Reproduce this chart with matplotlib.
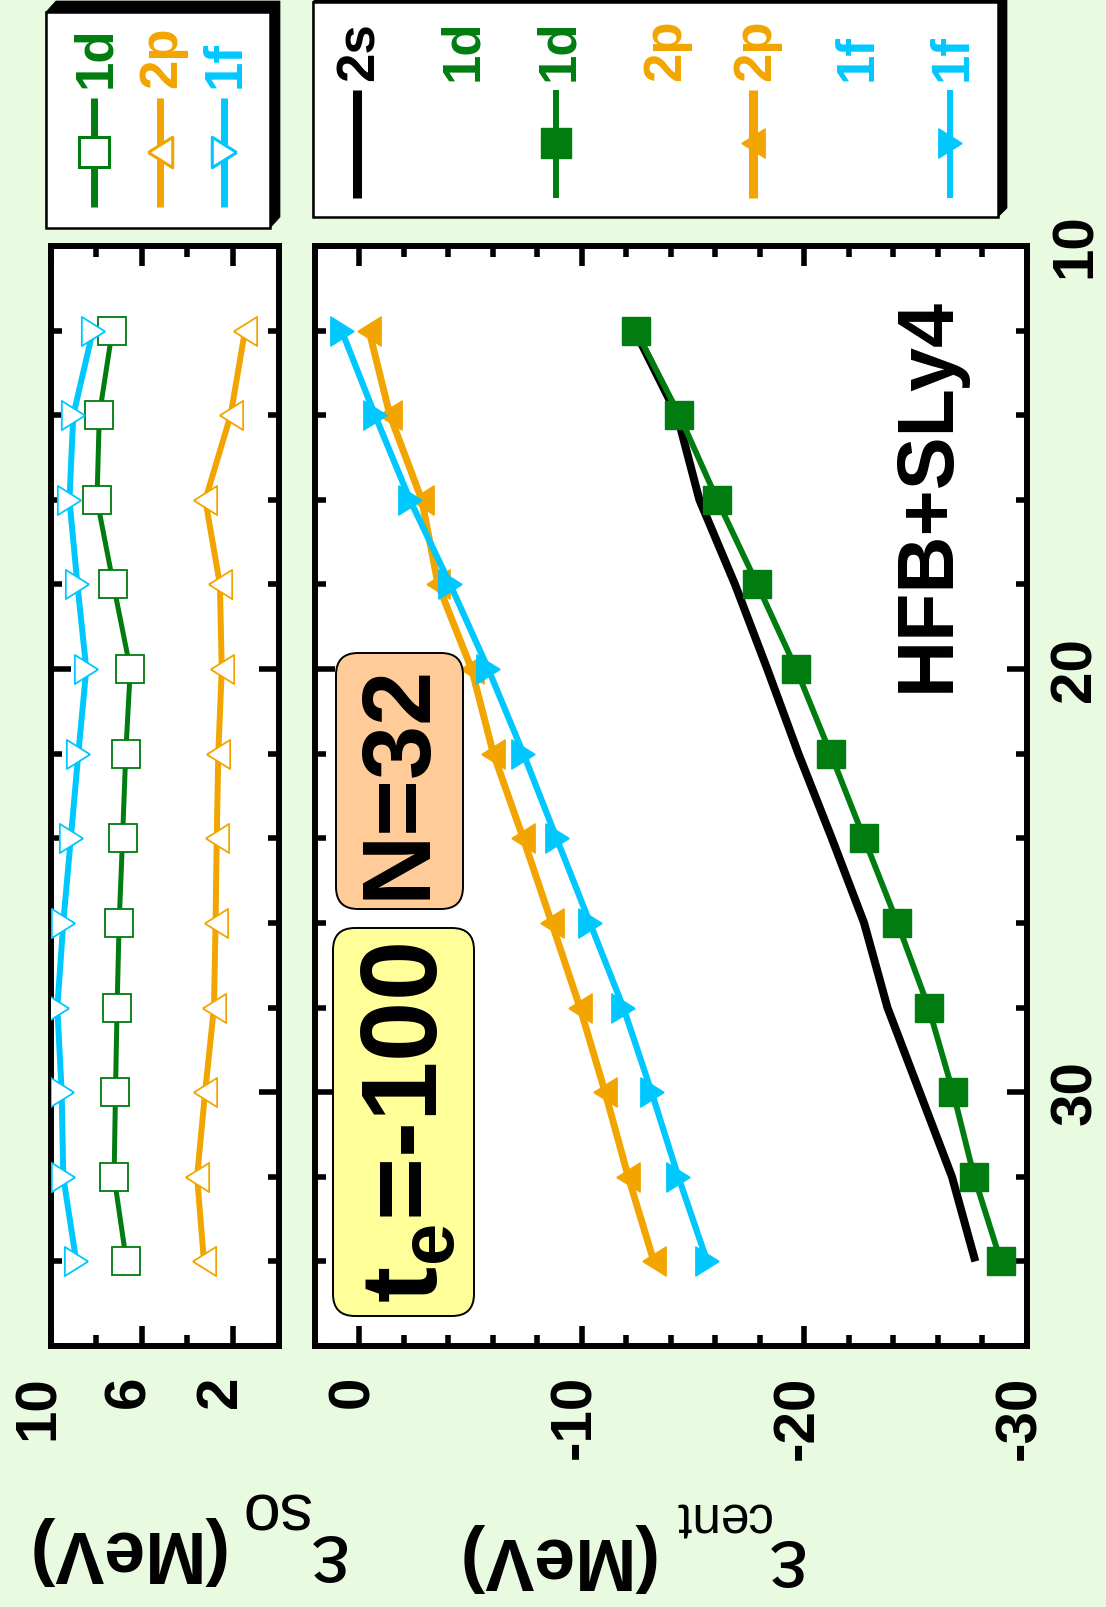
import numpy as np
import matplotlib
matplotlib.use('Agg')
import matplotlib.pyplot as plt
from matplotlib.patches import FancyBboxPatch, Polygon, Rectangle
import matplotlib.transforms as mtransforms

plt.rcParams['font.family'] = ['Liberation Sans', 'DejaVu Sans']
plt.rcParams['font.weight'] = 'bold'
plt.rcParams['axes.unicode_minus'] = False
plt.rcParams['mathtext.fontset'] = 'custom'
plt.rcParams['mathtext.rm'] = 'Liberation Sans'
plt.rcParams['mathtext.it'] = 'Liberation Sans'
plt.rcParams['mathtext.bf'] = 'Liberation Sans:bold'

# ---------------- data ----------------
Z = [12, 14, 16, 18, 20, 22, 24, 26, 28, 30, 32, 34]
e_cent_2s = [-12.4, -14.3, -15.3, -16.9, -18.35, -19.75, -21.25, -22.7, -23.75, -25.2, -26.65, -27.7]
e_cent_1d = [-12.45, -14.4, -16.1, -17.9, -19.65, -21.2, -22.7, -24.2, -25.6, -26.7, -27.65, -28.85]
e_cent_2p = [-0.45, -1.39, -2.82, -3.55, -5.06, -6.04, -7.38, -8.66, -9.93, -11.06, -12.1, -13.25]
e_cent_1f = [0.78, -0.72, -2.29, -4.1, -5.81, -7.39, -8.88, -10.38, -11.88, -13.15, -14.35, -15.65]

e_so_1d = [7.29, 7.86, 7.96, 7.24, 6.5, 6.7, 6.84, 6.99, 7.08, 7.15, 7.21, 6.67]
e_so_2p = [1.47, 2.10, 3.21, 2.57, 2.49, 2.64, 2.71, 2.76, 2.83, 3.22, 3.57, 3.27]
e_so_1f = [8.14, 9.0, 9.17, 8.82, 8.43, 8.78, 9.11, 9.44, 9.70, 9.51, 9.44, 8.87]

z_ticks = [10, 20, 30]
cent_ticks = [0, -10, -20, -30]
so_ticks = [10, 6, 2]

legend_left = ['1d', '2p', '1f']
legend_right = ['2s', '1d', '1d', '2p', '2p', '1f', '1f']

# ---------------- style ----------------
BG = '#E8FBE0'
GREEN = '#007C10'
ORANGE = '#F2A500'
CYAN = '#00C8FF'
W, H = 1106, 1607

tri_left = [(-0.4, 0), (0.4, -0.5), (0.4, 0.5), (-0.4, 0)]
tri_right = [(0.4, 0), (-0.4, -0.5), (-0.4, 0.5), (0.4, 0)]

fig = plt.figure(figsize=(W / 100, H / 100), dpi=100, facecolor=BG)


def px_axes(x0, x1, y0, y1):
    return fig.add_axes([x0 / W, 1 - y1 / H, (x1 - x0) / W, (y1 - y0) / H])


ax = px_axes(314.5, 1026.5, 246, 1346)
ax2 = px_axes(50.5, 278.5, 246, 1346)

for a in (ax, ax2):
    a.set_facecolor('white')
    for s in a.spines.values():
        s.set_linewidth(4.3)
    a.set_ylim(36, 10)
    a.set_yticks(z_ticks)
    a.set_yticks(np.arange(10, 37, 2), minor=True)
    a.tick_params(which='both', direction='in', top=True, bottom=True,
                  left=True, right=True, width=4, color='black')
    a.tick_params(which='major', length=14.5)
    a.tick_params(which='minor', length=8)

# main panel
ax.plot(e_cent_2s, Z, color='black', lw=5.8, solid_capstyle='butt', zorder=3)
ax.plot(e_cent_1d, Z, color=GREEN, lw=4.2, marker='s', ms=20, mfc=GREEN, mec=GREEN, mew=1, zorder=4)
ax.plot(e_cent_2p, Z, color=ORANGE, lw=5.0, marker=tri_left, ms=21, mfc=ORANGE, mec=ORANGE, mew=1, zorder=4)
ax.plot(e_cent_1f, Z, color=CYAN, lw=4.5, marker=tri_right, ms=21, mfc=CYAN, mec=CYAN, mew=1, zorder=5)
ax.set_xlim(2, -30)
ax.set_xticks(cent_ticks)
ax.set_xticks(np.arange(0, -29, -2), minor=True)
ax.tick_params(axis='x', labelbottom=True, labeltop=False, labelrotation=90, labelsize=42, pad=21)
ax.tick_params(axis='y', labelleft=False, labelright=True, labelrotation=90, labelsize=42, pad=16)
for lab in ax.get_yticklabels():
    lab.set_va('center')

# spin-orbit panel
ax2.plot(e_so_1d, Z, color=GREEN, lw=3.6, marker='s', ms=20, mfc='white', mec=GREEN, mew=1.3, zorder=4)
ax2.plot(e_so_2p, Z, color=ORANGE, lw=4.3, marker=tri_left, ms=21, mfc='white', mec=ORANGE, mew=1.3, zorder=4)
ax2.plot(e_so_1f, Z, color=CYAN, lw=4.3, marker=tri_right, ms=21, mfc='white', mec=CYAN, mew=1.3, zorder=5)
ax2.set_xlim(10, 0)
ax2.set_xticks(so_ticks)
ax2.set_xticks([8, 4], minor=True)
ax2.tick_params(axis='x', labelbottom=True, labeltop=False, labelrotation=90, labelsize=42, pad=21)
ax2.tick_params(axis='y', labelleft=False, labelright=False)

off_main = mtransforms.ScaledTranslation(-6 / 100, 0, fig.dpi_scale_trans)
off_so = mtransforms.ScaledTranslation(-12 / 100, 0, fig.dpi_scale_trans)
for lab in ax.get_xticklabels():
    lab.set_transform(lab.get_transform() + off_main)
for lab in ax2.get_xticklabels():
    lab.set_transform(lab.get_transform() + off_so)

# ---------------- overlay (pixel coords) ----------------
ov = fig.add_axes([0, 0, 1, 1], zorder=10)
ov.set_xlim(0, W)
ov.set_ylim(H, 0)
ov.axis('off')


def shadow_box(x0, y0, x1, y1, dx, dy):
    ov.add_patch(Polygon([(x0, y0), (x0 + dx, y0 + dy), (x1 + dx, y0 + dy),
                          (x1 + dx, y1 + dy), (x1, y1), (x0, y1)], closed=True,
                         facecolor='black', edgecolor='black', lw=0.5, zorder=1))
    ov.add_patch(Rectangle((x0, y0), x1 - x0, y1 - y0, facecolor='white',
                           edgecolor='black', lw=1.8, zorder=2))


# left legend
shadow_box(46, 12, 270, 228, 10, -11)
left_x = [94, 160, 224]
left_cols = [GREEN, ORANGE, CYAN]
left_mk = ['s', tri_left, tri_right]
for x, lab, c, m in zip(left_x, legend_left, left_cols, left_mk):
    ov.plot([x, x], [98, 207], color=c, lw=5, solid_capstyle='butt', zorder=3)
    ov.plot([x], [152], marker=m, ms=22, mfc='white', mec=c, mew=2.2, zorder=4)
    ov.text(x + 2, 88, lab, rotation=90, ha='center', va='bottom', color=c,
            fontsize=38, fontweight='bold', zorder=5)

# right legend
shadow_box(313, 1.5, 998, 217, 9, -9)
right_x = [357, 460, 556, 663, 753, 855, 950]
right_cols = ['black', GREEN, GREEN, ORANGE, ORANGE, CYAN, CYAN]
right_line = [True, False, True, False, True, False, True]
right_mk = [None, None, 's', None, tri_left, None, tri_right]
right_lw = [6.5, 0, 4.3, 0, 6.5, 0, 4.3]
for x, lab, c, ln, m, lw in zip(right_x, legend_right, right_cols, right_line, right_mk, right_lw):
    if ln:
        ov.plot([x, x], [90, 198], color=c, lw=lw, solid_capstyle='butt', zorder=3)
        if m is not None:
            ov.plot([x], [143], marker=m, ms=21, mfc=c, mec=c, mew=1, zorder=4)
    ov.text(x + 3, 81, lab, rotation=90, ha='center', va='bottom', color=c,
            fontsize=38, fontweight='bold', zorder=5)

# annotation boxes
ov.add_patch(FancyBboxPatch((336, 653), 127, 256, boxstyle='round,pad=0,rounding_size=22',
                            facecolor='#FFCC99', edgecolor='black', lw=1.4, zorder=3))
ov.text(400, 781, 'N=32', rotation=90, ha='center', va='center', fontsize=70,
        fontweight='bold', zorder=4)
ov.add_patch(FancyBboxPatch((333, 928), 141, 388, boxstyle='round,pad=0,rounding_size=22',
                            facecolor='#FFFF99', edgecolor='black', lw=1.4, zorder=3))
ov.text(410, 1123, r't$_\mathbf{e}$=-100', rotation=90, ha='center', va='center',
        fontsize=78, fontweight='bold', zorder=4)

ov.text(928, 495, 'HFB+SLy4', rotation=90, ha='center', va='center', fontsize=57,
        fontweight='bold', zorder=4)

# axis labels (upside down as in the reference), built from pieces
lab_kw = dict(rotation=180, rotation_mode='anchor', ha='left', va='baseline')
ov.text(223, 1531, '(MeV)', fontsize=53, fontweight='bold', **lab_kw)
ov.text(344, 1535, 'ε', fontsize=62, fontweight='normal', **lab_kw)
ov.text(310, 1492, 'so', fontsize=48, fontweight='normal', **lab_kw)

ov.text(653, 1538, '(MeV)', fontsize=53, fontweight='bold', **lab_kw)
ov.text(802, 1540, 'ε', fontsize=62, fontweight='normal', **lab_kw)
ov.text(770, 1502, 'cent', fontsize=37, fontweight='normal', **lab_kw)

fig.savefig('out.png', dpi=100, facecolor=BG)
